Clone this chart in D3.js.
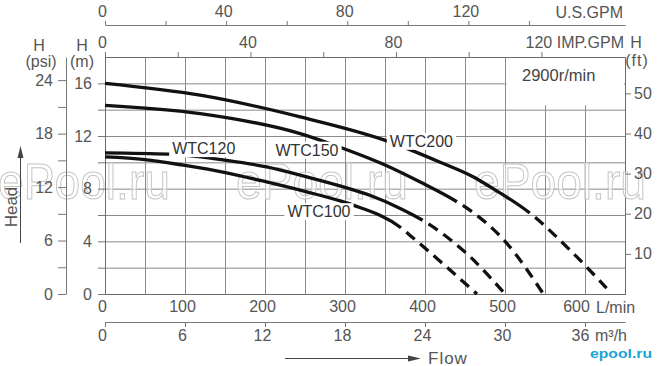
<!DOCTYPE html>
<html>
<head>
<meta charset="utf-8">
<script src="https://cdn.jsdelivr.net/npm/d3@7"></script>
<style>
body { margin: 0; background: #fff; }
svg { display: block; font-family: "Liberation Sans", Arial, sans-serif; }
</style>
</head>
<body>
<svg id="chart" width="657" height="366"></svg>
<script>
// pump curves, flow in L/min and head in m
const seriesNames = ["WTC200", "WTC150", "WTC120", "WTC100"]

const wtc200Q = [0, 119, 244, 356, 419, 460, 481, 531, 581, 627]
const wtc200H = [16.0, 15.1, 13.45, 11.55, 10.0, 8.9, 8.15, 6.15, 3.35, 0.45]

const wtc150Q = [0, 119, 244, 298, 348, 394, 440, 456, 502, 548]
const wtc150H = [14.33, 13.7, 12.18, 11.05, 9.85, 8.5, 7.0, 6.37, 3.87, 0]

const wtc120Q = [0, 79, 152, 202, 252, 300, 331, 369, 397, 456, 500]
const wtc120H = [10.72, 10.62, 10.15, 9.65, 8.9, 8.1, 7.5, 6.5, 5.6, 2.85, 0]

const wtc100Q = [0, 50, 98, 152, 202, 252, 294, 310, 370, 381, 465]
const wtc100H = [10.41, 10.21, 9.78, 9.2, 8.51, 7.76, 7.07, 6.75, 5.03, 4.47, 0]

const flows = [wtc200Q, wtc150Q, wtc120Q, wtc100Q]
const heads = [wtc200H, wtc150H, wtc120H, wtc100H]
const solidTo = [531, 440, 397, 370]      // past this flow the curve is dashed

// where each name sits (left edge, middle), in L/min / m
const labelQ = [356, 213, 84, 228]
const labelH = [11.6, 10.93, 11.05, 6.26]

const flowTicks = [0, 100, 200, 300, 400, 500, 600]
const cubicTicks = [0, 6, 12, 18, 24, 30, 36]
const usTicks = [0, 20, 40, 60, 80, 100, 120, 140]
const usLabels = [0, 40, 80, 120]
const impTicks = [0, 20, 40, 60, 80, 100, 120]
const impLabels = [0, 40, 80, 120]
const metreTicks = [0, 2, 4, 6, 8, 10, 12, 14, 16]
const metreLabels = [0, 4, 8, 12, 16]
const psiTicks = [0, 3, 6, 9, 12, 15, 18, 21, 24]
const psiLabels = [0, 6, 12, 18, 24]
const feetTicks = [10, 20, 30, 40, 50]
const psiAtTop = 26.6   // the psi scale as drawn on the sheet
const speedText = "2900r/min"

const svg = d3.select("#chart")

const x = d3.scaleLinear().domain([0, 650]).range([105, 625])
const y = d3.scaleLinear().domain([0, 18]).range([294, 57])
const xUs = d3.scaleLinear().domain([0, 650 / 3.785]).range(x.range())
const xImp = d3.scaleLinear().domain([0, 650 / 4.546]).range(x.range())
const xCubic = d3.scaleLinear().domain([0, 650 * 0.06]).range(x.range())
const yPsi = d3.scaleLinear().domain([0, psiAtTop]).range(y.range())
const yFt = d3.scaleLinear().domain([0, 18 / 0.3048]).range(y.range())

const textCol = "#555"
const lineCol = "#777"

// grid
const grid = svg.append("g").attr("stroke", "#8a8a8a").attr("stroke-width", 1)
grid.selectAll("line.v").data(d3.range(50, 650, 50)).join("line")
    .attr("x1", d => x(d) + 0.5).attr("x2", d => x(d) + 0.5)
    .attr("y1", y(0)).attr("y2", y(18))
grid.selectAll("line.h").data(d3.range(2, 18, 2)).join("line")
    .attr("x1", x(0)).attr("x2", x(650))
    .attr("y1", d => y(d) + 0.5).attr("y2", d => y(d) + 0.5)

// speed box hides the grid in the top right corner
svg.append("rect")
    .attr("x", x(500) + 1.5).attr("y", y(18) + 1)
    .attr("width", x(650) - x(500) - 2.5).attr("height", y(14.4) - y(18))
    .attr("fill", "#fff")
svg.append("text").attr("x", 522).attr("y", y(16.6))
    .attr("dy", "0.35em").attr("font-size", 16.5).attr("fill", "#444")
    .text(speedText)

svg.append("rect")
    .attr("x", x(0) + 0.5).attr("y", y(18) + 0.5)
    .attr("width", x(650) - x(0)).attr("height", y(0) - y(18))
    .attr("fill", "none").attr("stroke", "#6a6a6a")

// watermark
const wm = svg.append("g").attr("font-size", 50).attr("fill", "#fff").attr("fill-opacity", 0.55)
    .attr("stroke", "#c4c4c4").attr("stroke-width", 1)
wm.selectAll("text").data([-2, 236, 474]).join("text")
    .attr("x", d => d).attr("y", 199)
    .attr("textLength", 172).attr("lengthAdjust", "spacingAndGlyphs")
    .text("ePool.ru")

// curves: solid where measured, dashed beyond
const line = d3.line().x(d => x(d[0])).y(d => y(d[1])).curve(d3.curveMonotoneX)
const curves = svg.append("g")
seriesNames.forEach((name, i) => {
    const pts = d3.zip(flows[i], heads[i])
    const path = curves.append("path")
        .attr("d", line(pts))
        .attr("fill", "none").attr("stroke", "#111").attr("stroke-width", 3.3)
    const node = path.node(), total = node.getTotalLength()
    let lo = 0, hi = total
    while (hi - lo > 0.3) {
        const mid = (lo + hi) / 2
        if (node.getPointAtLength(mid).x < x(solidTo[i])) lo = mid; else hi = mid
    }
    const dash = [lo]
    for (let l = lo; l < total; l += 18) dash.push(7, 11)
    path.attr("stroke-dasharray", dash.join(" "))
})

// series names on white
const labels = svg.append("g")
seriesNames.forEach((name, i) => {
    const g = labels.append("g")
    const t = g.append("text")
        .attr("x", x(labelQ[i])).attr("y", y(labelH[i])).attr("dy", "0.35em")
        .attr("font-size", 16).attr("fill", "#333").text(name)
    const b = t.node().getBBox()
    g.insert("rect", "text")
        .attr("x", b.x - 3).attr("y", b.y)
        .attr("width", b.width + 6).attr("height", b.height)
        .attr("fill", "#fff")
})

function styleAxis(g) {
    g.attr("font-family", null).attr("font-size", 16)
    g.selectAll("line").attr("stroke", lineCol)
    g.selectAll("path").attr("stroke", lineCol)
    g.selectAll("text").attr("fill", textCol)
}

// top axes
svg.append("g").attr("transform", "translate(0,25)")
    .call(d3.axisTop(xUs).tickValues(usTicks).tickSize(4).tickSizeOuter(0).tickPadding(4)
        .tickFormat(d => usLabels.includes(d) ? d : ""))
    .call(styleAxis)
    .call(g => g.selectAll("text").attr("dx", -3))
svg.append("g").attr("transform", "translate(0," + y(18) + ")")
    .call(d3.axisTop(xImp).tickValues(impTicks).tickSize(5).tickSizeOuter(0).tickPadding(4)
        .tickFormat(d => impLabels.includes(d) ? d : ""))
    .call(styleAxis)
    .call(g => g.select(".domain").remove())
    .call(g => g.selectAll("text").attr("dx", -3))

// left axes
svg.append("g").attr("transform", "translate(" + x(0) + ",0)")
    .call(d3.axisLeft(y).tickValues(metreTicks).tickSize(7).tickPadding(6)
        .tickFormat(d => metreLabels.includes(d) ? d : ""))
    .call(styleAxis)
    .call(g => g.select(".domain").remove())
svg.append("g").attr("transform", "translate(66,0)")
    .call(d3.axisLeft(yPsi).tickValues(psiTicks).tickSize(8).tickSizeOuter(0).tickPadding(5)
        .tickFormat(d => psiLabels.includes(d) ? d : ""))
    .call(styleAxis)

// right axis
svg.append("g").attr("transform", "translate(" + x(650) + ",0)")
    .call(d3.axisRight(yFt).tickValues(feetTicks).tickSize(6).tickPadding(3))
    .call(styleAxis)
    .call(g => g.select(".domain").remove())

// bottom axes
svg.append("g").attr("transform", "translate(0," + y(0) + ")")
    .call(d3.axisBottom(x).tickValues(flowTicks).tickSize(0).tickPadding(7))
    .call(styleAxis)
    .call(g => g.select(".domain").remove())
    .call(g => g.selectAll("text").attr("dx", d => d === 600 ? -9 : -3))
svg.append("g").attr("transform", "translate(0,322)")
    .call(d3.axisBottom(xCubic).tickValues(cubicTicks).tickSize(5).tickSizeOuter(0).tickPadding(3))
    .call(styleAxis)
    .call(g => g.selectAll("text").attr("dx", d => d === 36 ? -5 : -3))

// unit names
const units = svg.append("g").attr("font-size", 16).attr("fill", textCol)
units.append("text").attr("x", 623).attr("y", 12).attr("dy", "0.35em").attr("text-anchor", "end").text("U.S.GPM")
units.append("text").attr("x", 624).attr("y", 42.5).attr("dy", "0.35em").attr("text-anchor", "end").text("IMP.GPM")
units.append("text").attr("x", 636).attr("y", 42.5).attr("dy", "0.35em").attr("text-anchor", "middle").text("H")
units.append("text").attr("x", 637).attr("y", 60).attr("dy", "0.35em").attr("text-anchor", "middle").attr("letter-spacing", 1).text("(ft)")
units.append("text").attr("x", 39).attr("y", 45).attr("dy", "0.35em").attr("text-anchor", "middle").text("H")
units.append("text").attr("x", 41).attr("y", 61).attr("dy", "0.35em").attr("text-anchor", "middle").text("(psi)")
units.append("text").attr("x", 82).attr("y", 45).attr("dy", "0.35em").attr("text-anchor", "middle").text("H")
units.append("text").attr("x", 82).attr("y", 61).attr("dy", "0.35em").attr("text-anchor", "middle").text("(m)")
units.append("text").attr("x", 596).attr("y", 307).attr("dy", "0.35em").text("L/min")
units.append("text").attr("x", 595).attr("y", 335).attr("dy", "0.35em").text("m³/h")

// Head / Flow arrows
const arrows = svg.append("g").attr("stroke", "#444").attr("fill", "#444")
arrows.append("line").attr("x1", 20.5).attr("x2", 20.5).attr("y1", 243).attr("y2", 155)
arrows.append("path").attr("d", "M20.5,146L23.5,158L17.5,158Z").attr("stroke", "none")
arrows.append("line").attr("x1", 285).attr("x2", 410).attr("y1", 358.5).attr("y2", 358.5)
arrows.append("path").attr("d", "M421,358.5L408,355.5L408,361.5Z").attr("stroke", "none")
units.append("text").attr("transform", "translate(11,207) rotate(-90)")
    .attr("dy", "0.35em").attr("text-anchor", "middle").attr("font-size", 17).text("Head")
units.append("text").attr("x", 428).attr("y", 358).attr("dy", "0.35em")
    .attr("font-size", 17).attr("letter-spacing", 1).text("Flow")

// site logo
svg.append("text").attr("x", 590).attr("y", 358)
    .attr("font-size", 13).attr("font-weight", "bold").attr("fill", "#19a3d6")
    .attr("textLength", 62).attr("lengthAdjust", "spacingAndGlyphs")
    .text("epool.ru")
</script>
</body>
</html>
